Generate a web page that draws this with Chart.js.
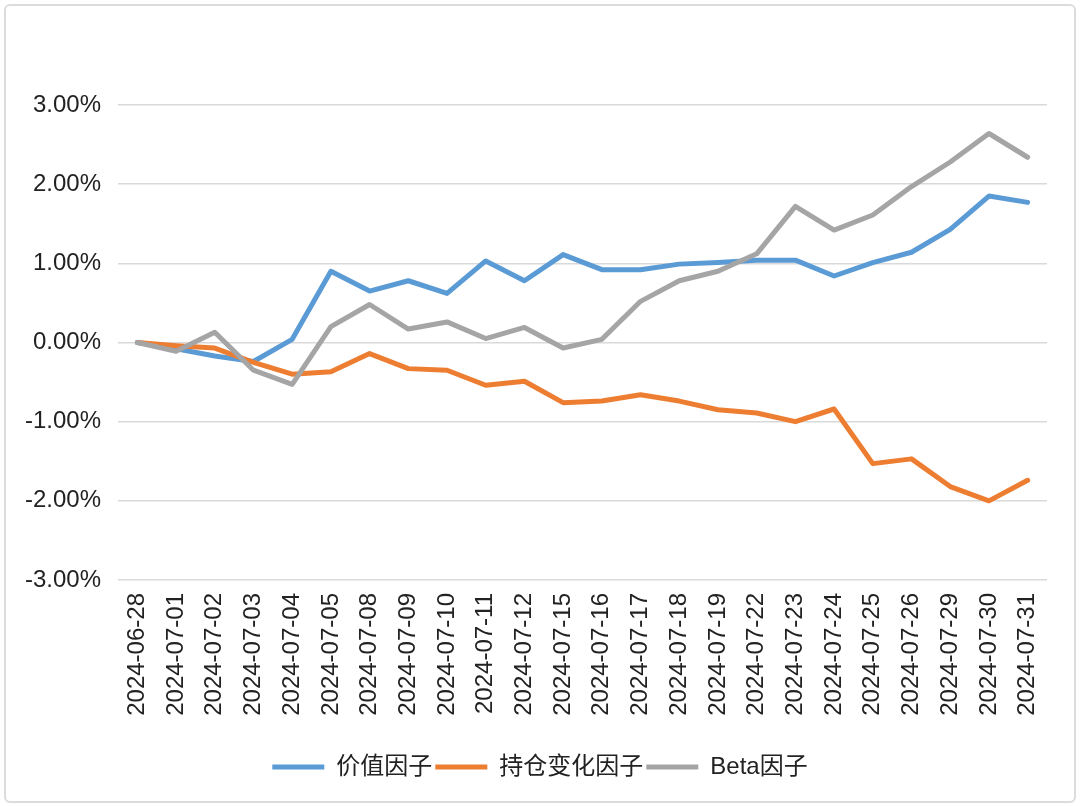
<!DOCTYPE html>
<html lang="zh">
<head>
    <meta charset="UTF-8">
    <title>因子累计收益</title>
    <script src="https://cdn.jsdelivr.net/npm/chart.js"></script>
    <style>
        body { margin: 0; background: #fff; }
        #frame {
            position: absolute; left: 4px; top: 4px;
            width: 1068px; height: 795px;
            border: 2px solid #dcdcdc; border-radius: 6px;
        }
        #factorChart { position: absolute; left: 0; top: 0; }
    </style>
</head>
<body>
    <div id="frame"></div>
    <canvas id="factorChart" width="1080" height="806"></canvas>

    <script>
        // 日期与三条因子曲线（单位：%）
        const dates = ['2024-06-28', '2024-07-01', '2024-07-02', '2024-07-03', '2024-07-04', '2024-07-05',
            '2024-07-08', '2024-07-09', '2024-07-10', '2024-07-11', '2024-07-12', '2024-07-15',
            '2024-07-16', '2024-07-17', '2024-07-18', '2024-07-19', '2024-07-22', '2024-07-23',
            '2024-07-24', '2024-07-25', '2024-07-26', '2024-07-29', '2024-07-30', '2024-07-31'];
        const valueFactor = [0, -0.08, -0.17, -0.24, 0.04, 0.90, 0.65, 0.78, 0.62, 1.03, 0.78, 1.11,
            0.92, 0.92, 0.99, 1.01, 1.04, 1.04, 0.84, 1.01, 1.14, 1.43, 1.85, 1.77];
        const holdingFactor = [0, -0.04, -0.07, -0.25, -0.40, -0.37, -0.14, -0.33, -0.35, -0.54, -0.49, -0.76,
            -0.74, -0.66, -0.74, -0.85, -0.89, -1.00, -0.84, -1.53, -1.47, -1.82, -2.00, -1.74];
        const betaFactor = [0, -0.11, 0.13, -0.35, -0.53, 0.20, 0.48, 0.17, 0.26, 0.05, 0.19, -0.07,
            0.04, 0.52, 0.78, 0.90, 1.12, 1.72, 1.42, 1.61, 1.97, 2.28, 2.64, 2.34];
        const seriesNames = ['价值因子', '持仓变化因子', 'Beta因子'];
        const yTicks = [-3, -2, -1, 0, 1, 2, 3];

        const fontFamily = "'Liberation Sans', Arial, 'Noto Sans CJK SC', sans-serif";

        function lineSet(label, data, color, order) {
            return {
                label: label,
                data: data,
                borderColor: color,
                backgroundColor: color,
                borderWidth: 5,
                borderCapStyle: 'round',
                borderJoinStyle: 'round',
                pointRadius: 0,
                tension: 0,
                order: order
            };
        }

        let ctx = document.getElementById('factorChart').getContext('2d');
        let factorChart = new Chart(ctx, {
            type: 'line',
            data: {
                labels: dates,
                datasets: [
                    lineSet(seriesNames[0], valueFactor, '#5B9BD5', 3),
                    lineSet(seriesNames[1], holdingFactor, '#ED7D31', 2),
                    lineSet(seriesNames[2], betaFactor, '#A5A5A5', 1)
                ]
            },
            options: {
                responsive: false,
                animation: false,
                layout: { padding: { left: 0, right: 0, top: 105, bottom: 17 } },
                plugins: {
                    tooltip: { enabled: false },
                    legend: {
                        position: 'bottom',
                        labels: {
                            usePointStyle: true,
                            pointStyle: 'line',
                            pointStyleWidth: 52,
                            padding: 3,
                            color: '#222',
                            font: { family: fontFamily, size: 24 },
                            sort: (a, b) => a.datasetIndex - b.datasetIndex
                        }
                    }
                },
                scales: {
                    x: {
                        offset: true,
                        grid: { display: false, drawTicks: false },
                        border: { display: false },
                        ticks: {
                            minRotation: 90,
                            maxRotation: 90,
                            autoSkip: false,
                            padding: 13,
                            color: '#222',
                            font: { family: fontFamily, size: 24 }
                        },
                        afterFit: (scale) => { scale.height = 172; }
                    },
                    y: {
                        min: yTicks[0],
                        max: yTicks[yTicks.length - 1],
                        afterBuildTicks: (scale) => { scale.ticks = yTicks.map(v => ({ value: v })); },
                        grid: { color: '#D9D9D9', lineWidth: 1.5, drawTicks: false },
                        border: { display: false },
                        ticks: {
                            padding: 17,
                            color: '#222',
                            font: { family: fontFamily, size: 24 },
                            callback: (v) => v.toFixed(2) + '%'
                        },
                        afterFit: (scale) => { scale.width = 118; }
                    },
                    // 右侧留白，让图例保持整幅居中
                    yRight: {
                        position: 'right',
                        grid: { display: false, drawTicks: false },
                        border: { display: false },
                        ticks: { display: false },
                        afterFit: (scale) => { scale.width = 33; }
                    }
                }
            }
        });
    </script>
</body>
</html>
